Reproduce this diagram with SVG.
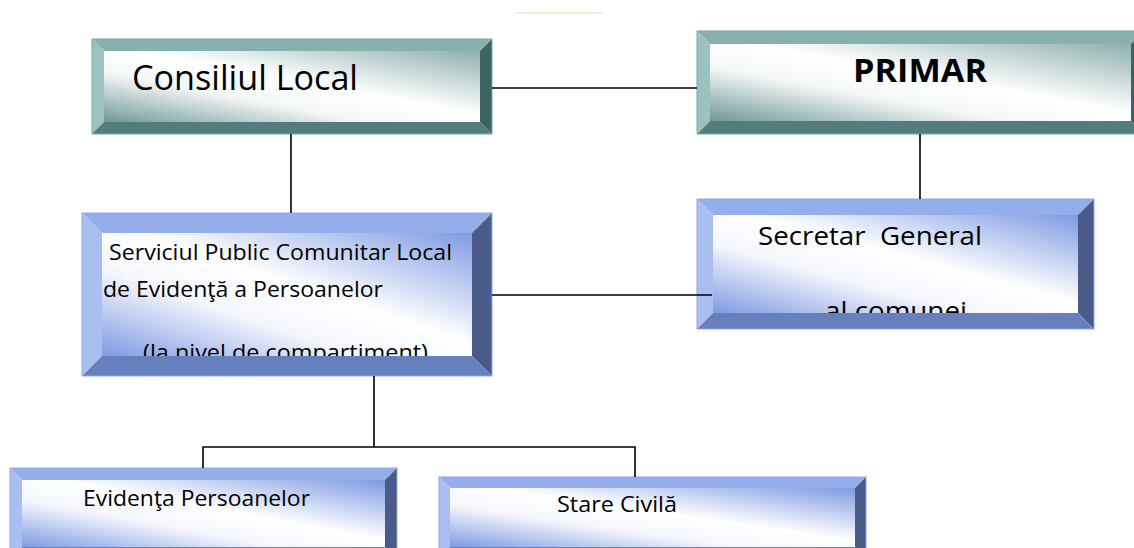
<svg xmlns="http://www.w3.org/2000/svg" width="1134" height="548" viewBox="0 0 1134 548">
<style>
.t{font-family:"Open Sans","Noto Sans","Liberation Sans",sans-serif;fill:#000}
.c{stroke:#000;stroke-width:1.6;fill:none}
.tt{fill:#86B1AE}.tl{fill:#9CC2BF}.tr{fill:#3E6362}.tb{fill:#527D7B}
.bt{fill:#94AEEB}.bl{fill:#AABEF0}.br{fill:#4A5B8A}.bb{fill:#6680BE}
.ot{stroke:#7FA9A6;stroke-width:1;fill:none}
.ob{stroke:#8EA8E6;stroke-width:1;fill:none}
</style>
<defs>
<linearGradient id="gT" x1="0" y1="1" x2="1" y2="0">
<stop offset="0" stop-color="#6F9896"/>
<stop offset="0.35" stop-color="#F4F7F7"/>
<stop offset="0.55" stop-color="#FFFFFF"/>
<stop offset="1" stop-color="#8EB0AE"/>
</linearGradient>
<linearGradient id="gB" x1="0" y1="1" x2="1" y2="0">
<stop offset="0" stop-color="#7E9AE2"/>
<stop offset="0.35" stop-color="#F4F6FD"/>
<stop offset="0.55" stop-color="#FFFFFF"/>
<stop offset="1" stop-color="#7E9AE2"/>
</linearGradient>
</defs>
<rect width="1134" height="548" fill="#fff"/>
<line x1="515" y1="13" x2="603" y2="13" stroke="#EEF0D6" stroke-width="2"/>

<g id="consiliul">
<rect x="104" y="51" width="376" height="71" fill="url(#gT)"/>
<text class="t" x="132" y="90" font-size="34" textLength="226" lengthAdjust="spacingAndGlyphs">Consiliul Local</text>
<polygon class="tt" points="92,39 492,39 480,51 104,51"/>
<polygon class="tl" points="92,39 104,51 104,122 92,134"/>
<polygon class="tr" points="492,39 492,134 480,122 480,51"/>
<polygon class="tb" points="92,134 104,122 480,122 492,134"/>
<rect class="ot" x="92" y="39" width="400" height="95"/>
</g>

<g id="primar">
<rect x="710" y="44" width="421" height="77" fill="url(#gT)"/>
<text class="t" x="853" y="82" font-size="32" font-weight="bold" textLength="134" lengthAdjust="spacingAndGlyphs">PRIMAR</text>
<polygon class="tt" points="697,31 1144,31 1131,44 710,44"/>
<polygon class="tl" points="697,31 710,44 710,121 697,134"/>
<polygon class="tr" points="1144,31 1144,134 1131,121 1131,44"/>
<polygon class="tb" points="697,134 710,121 1131,121 1144,134"/>
<rect class="ot" x="697" y="31" width="447" height="103"/>
</g>

<g id="serviciul">
<rect x="102" y="233" width="370" height="123" fill="url(#gB)"/>
<text class="t" x="109" y="260" font-size="21" textLength="343" lengthAdjust="spacingAndGlyphs">Serviciul Public Comunitar Local</text>
<text class="t" x="103" y="297" font-size="21" textLength="280" lengthAdjust="spacingAndGlyphs">de Evidenţă a Persoanelor</text>
<text class="t" x="143" y="360" font-size="21" textLength="285" lengthAdjust="spacingAndGlyphs">(la nivel de compartiment)</text>
<polygon class="bt" points="82,213 492,213 472,233 102,233"/>
<polygon class="bl" points="82,213 102,233 102,356 82,376"/>
<polygon class="br" points="492,213 492,376 472,356 472,233"/>
<polygon class="bb" points="82,376 102,356 472,356 492,376"/>
<rect class="ob" x="82" y="213" width="410" height="163"/>
</g>

<g id="secretar">
<rect x="713" y="215" width="365" height="98" fill="url(#gB)"/>
<text class="t" x="758" y="245" font-size="25" textLength="224" lengthAdjust="spacingAndGlyphs" xml:space="preserve">Secretar  General</text>
<text class="t" x="825" y="320" font-size="25" textLength="142" lengthAdjust="spacingAndGlyphs">al comunei</text>
<polygon class="bt" points="697,199 1094,199 1078,215 713,215"/>
<polygon class="bl" points="697,199 713,215 713,313 697,329"/>
<polygon class="br" points="1094,199 1094,329 1078,313 1078,215"/>
<polygon class="bb" points="697,329 713,313 1078,313 1094,329"/>
<rect class="ob" x="697" y="199" width="397" height="130"/>
</g>

<g id="evidenta">
<rect x="22" y="480" width="363" height="67" fill="url(#gB)"/>
<text class="t" x="83" y="506" font-size="21" textLength="227" lengthAdjust="spacingAndGlyphs">Evidenţa Persoanelor</text>
<polygon class="bt" points="10,468 397,468 385,480 22,480"/>
<polygon class="bl" points="10,468 22,480 22,547 10,559"/>
<polygon class="br" points="397,468 397,559 385,547 385,480"/>
<polygon class="bb" points="10,559 22,547 385,547 397,559"/>
<rect class="ob" x="10" y="468" width="387" height="91"/>
</g>

<g id="stare">
<rect x="450" y="488" width="405" height="59" fill="url(#gB)"/>
<text class="t" x="557" y="512" font-size="21" textLength="120" lengthAdjust="spacingAndGlyphs">Stare Civilă</text>
<polygon class="bt" points="439,477 866,477 855,488 450,488"/>
<polygon class="bl" points="439,477 450,488 450,547 439,558"/>
<polygon class="br" points="866,477 866,558 855,547 855,488"/>
<polygon class="bb" points="439,558 450,547 855,547 866,558"/>
<rect class="ob" x="439" y="477" width="427" height="81"/>
</g>

<g id="connectors">
<line class="c" x1="492" y1="88" x2="697" y2="88"/>
<line class="c" x1="291" y1="134" x2="291" y2="213"/>
<line class="c" x1="920" y1="134" x2="920" y2="199"/>
<line class="c" x1="492" y1="295" x2="712" y2="295"/>
<line class="c" x1="374" y1="376" x2="374" y2="447"/>
<polyline class="c" points="203,468 203,447 635,447 635,477"/>
</g>
</svg>
